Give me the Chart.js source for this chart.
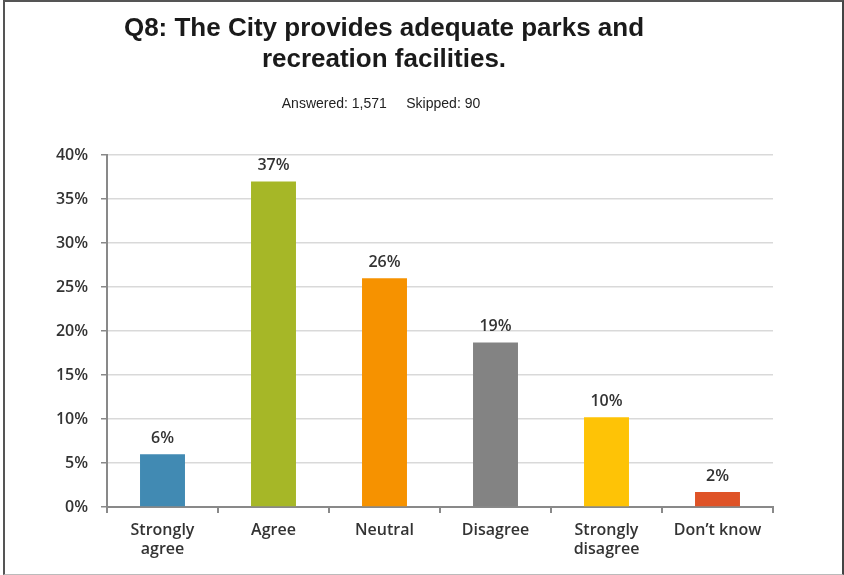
<!DOCTYPE html>
<html>
<head>
<meta charset="utf-8">
<script src="https://cdn.jsdelivr.net/npm/chart.js@4"></script>
<style>
  html, body { margin: 0; padding: 0; background: #fff; }
  #wrap { position: relative; width: 844px; height: 575px; overflow: hidden; }
  #frame { position: absolute; left: 3px; top: 0; width: 837px; height: 572px;
           border-left: 2px solid #555; border-top: 2px solid #555;
           border-right: 2px solid #444; border-bottom: 1px solid #bbb; box-sizing: content-box; pointer-events: none; }
  #title { position: absolute; left: 0; width: 768px; top: 12px; text-align: center;
           font: bold 26px "Liberation Sans", Arial, sans-serif; line-height: 31px; color: #1a1a1a; }
  #sub { position: absolute; left: 0; width: 762px; top: 95px; text-align: center;
         font: 14px "Liberation Sans", Arial, sans-serif; color: #222; white-space: pre; }
  canvas { position: absolute; left: 0; top: 0; }
</style>
</head>
<body>
<div id="wrap">
  <canvas id="myChart" width="844" height="575"></canvas>
  <div id="title">Q8: The City provides adequate parks and<br>recreation facilities.</div>
  <div id="sub">Answered: 1,571     Skipped: 90</div>
  <div id="frame"></div>
</div>
<script>
const categories = [['Strongly', 'agree'], 'Agree', 'Neutral', 'Disagree', ['Strongly', 'disagree'], 'Don\u2019t know'];
const percents = [6.0, 37.0, 26.0, 18.7, 10.2, 1.7];
const barColors = ['#418AB3', '#A6B727', '#F69200', '#838383', '#FEC306', '#DF5327'];
const yTicks = [0, 5, 10, 15, 20, 25, 30, 35, 40];

const labelFont = '600 16px "Open Sans", "Noto Sans", sans-serif';

const barLabels = {
    id: 'barLabels',
    afterDatasetsDraw(chart) {
        const c = chart.ctx;
        const meta = chart.getDatasetMeta(0);
        c.save();
        c.font = labelFont;
        c.fillStyle = '#333';
        c.textAlign = 'center';
        c.textBaseline = 'bottom';
        meta.data.forEach((bar, i) => {
            c.fillText(Math.round(percents[i]) + '%', bar.x, bar.y - 8);
        });
        c.restore();
    }
};

const ctx = document.getElementById('myChart');

new Chart(ctx, {
    type: 'bar',
    data: {
        labels: categories,
        datasets: [{
            data: percents,
            backgroundColor: barColors,
            barPercentage: 0.405,
            categoryPercentage: 1
        }]
    },
    plugins: [barLabels],
    options: {
        responsive: false,
        animation: false,
        layout: { padding: { left: 0, right: 71, top: 155, bottom: 0 } },
        plugins: {
            legend: { display: false },
            tooltip: { enabled: false }
        },
        scales: {
            x: {
                afterFit: s => { s.height = 68; },
                grid: { offset: true, drawOnChartArea: false, tickLength: 6, tickColor: '#898989', lineWidth: 2 },
                border: { color: '#898989', width: 2 },
                ticks: {
                    color: '#333',
                    padding: 8,
                    maxRotation: 0,
                    font: { family: '"Open Sans", "Noto Sans", sans-serif', size: 16, weight: '600', lineHeight: 1.2 }
                }
            },
            y: {
                min: 0,
                max: 40,
                afterFit: s => { s.width = 107; },
                afterBuildTicks: s => { s.ticks = yTicks.map(v => ({ value: v })); },
                grid: { color: '#d9d9d9', lineWidth: 1.5, tickLength: 6, tickColor: '#898989' },
                border: { color: '#898989', width: 2 },
                ticks: {
                    color: '#333',
                    padding: 13,
                    callback: v => v + '%',
                    font: { family: '"Open Sans", "Noto Sans", sans-serif', size: 16, weight: '600' }
                }
            }
        }
    }
});
</script>
</body>
</html>
